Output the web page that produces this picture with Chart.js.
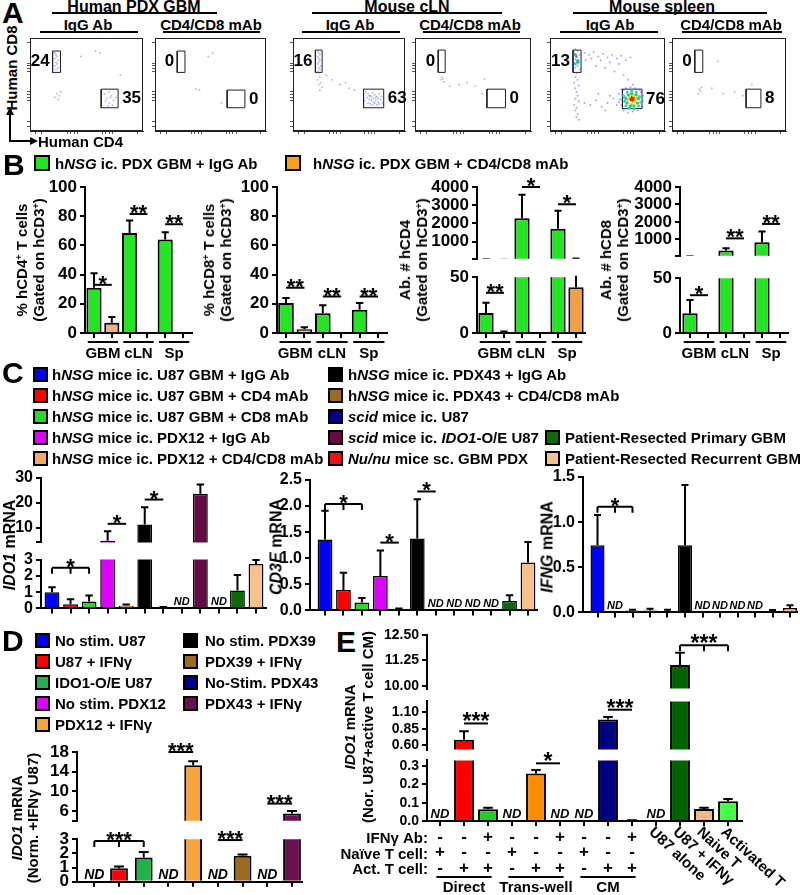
<!DOCTYPE html>
<html>
<head>
<meta charset="utf-8">
<title>IDO1 / T cell figure</title>
<script src="https://cdn.jsdelivr.net/npm/chart.js@4.4.1/dist/chart.umd.min.js"></script>
<style>
  html, body { margin: 0; padding: 0; background: #fff; }
  body { position: relative; width: 800px; height: 895px; overflow: hidden;
         font-family: "Liberation Sans", Arial, sans-serif; font-weight: bold; color: #000; }
  canvas { position: absolute; }
  .t { position: absolute; white-space: nowrap; line-height: 1; }
  .sq { position: absolute; box-sizing: border-box; border: 2px solid #000; }
  .hl { position: absolute; height: 0; border-top: 2px solid #000; }
  sup { font-size: 60%; vertical-align: 0.55em; line-height: 0; }
</style>
</head>
<body>
<script>
const FONT = '"Liberation Sans", Arial, sans-serif';

// ---------- Panel A: flow plots (CD4 on x, CD8 on y, 0-100 display units) ----------
const gateCD8 = [[20, 27, 63, 86], [20, 27, 63, 86], [20, 26, 63, 87], [20, 26, 63, 87], [20, 27, 63, 87], [20, 27, 63, 87]];
const gateCD4 = [[63, 78, 25, 45], [65, 81, 25, 44], [63, 81, 25, 45], [62, 78, 25, 45], [63, 80, 24, 45], [65, 78, 25, 45]];
const gatePct = [['24', '35'], ['0', '0'], ['16', '63'], ['0', '0'], ['13', '76'], ['0', '8']];
const flowTicks = [5, 10, 33, 36, 39, 42, 64, 67, 70, 73, 95];

const a1Dots = [[22,84],[23,82],[24,80],[22,78],[25,76],[23,74],[24,72],[22,70],[25,68],[23,66],
  [24,40],[26,38],[22,36],[25,34],[27,42],
  [66,40],[70,42],[72,38],[68,35],[74,33],[70,30],[73,28],[67,32],[76,36],[71,36],[69,27],
  [58,86],[62,84],[45,80],[80,60]];
const a2Dots = [[37,45],[40,44],[48,80],[52,84],[60,30]];
const a3Dots = [[22,86],[23,84],[24,82],[22,80],[23,78],[24,76],[23,74],[22,72],[25,70],[23,68],[24,66],[22,64],
  [23,62],[24,58],[22,55],[25,52],[23,50],[26,47],[24,44],
  [30,60],[35,55],[42,50],[50,46],[55,44],[47,52],
  [65,42],[67,40],[69,38],[71,41],[73,39],[75,37],[77,40],[66,36],[68,34],[70,33],[72,35],[74,33],[76,31],[78,34],
  [67,30],[69,29],[71,28],[73,30],[75,28],[77,29],[70,37],[72,31],[74,36],[68,38],[76,35],[79,37],[64,33],[80,30]];
const a4Dots = [[23,58],[24,56],[25,53],[22,55],[30,48],[38,50],[45,52],[52,48],[58,40],[60,56]];
const a5Blue = [[22,88],[24,86],[21,84],[26,82],[23,80],[22,77],[25,75],[21,73],[24,70],[22,68],[26,66],[23,62],
  [22,58],[24,55],[21,52],[25,49],[22,46],[23,42],[24,38],[22,35],[25,32],[21,28],[23,25],[22,22],[24,18],[23,15],[25,12],
  [30,84],[34,82],[38,85],[42,80],[46,83],[50,79],[54,82],[58,78],[62,81],[66,76],[70,79],[36,78],[44,76],[52,74],
  [60,72],[31,76],[40,70],[48,68],[56,64],[64,60],[68,55],[72,50],
  [30,30],[35,28],[40,33],[45,26],[50,30],[55,35],[58,28],[42,40],[48,22],[52,38],
  [60,40],[61,34],[62,28],[64,44],[64,22],[66,46],[68,20],[70,47],[72,21],[74,46],[76,22],[78,44],[80,26],[81,32],
  [81,38],[79,42],[60,31],[62,45]];
const a5Cyan = [[64,38],[65,32],[66,27],[67,42],[69,25],[71,43],[73,24],[75,42],[77,27],[78,37],[79,31],[65,36],
  [23,80],[24,76],[22,72]];
const a5Green = [[66,35],[67,30],[68,39],[70,27],[71,40],[73,27],[75,39],[76,30],[77,35],[22,82],[24,74]];
const a5Yellow = [[68,33],[69,37],[71,29],[73,38],[74,32],[75,35]];
const a5Red = [[70,34],[72,33],[71,36],[73,35]];
const a6Dots = [[24,45],[25,43],[23,40],[26,47],[35,46],[45,40],[55,42],[62,38],[40,75],[70,50]];

// ---------- Panel B ----------
const bGroups = ['GBM', 'cLN', 'Sp'];
const cd4PctVal = [31, 7, 68.5, 0, 64, 0];
const cd4PctErr = [10, 4, 8.5, 0, 5, 0];
const cd8PctVal = [20.5, 2.5, 13.5, 0, 16, 0];
const cd8PctErr = [3.5, 1.5, 5.5, 0, 4.5, 0];
const cd4AbsVal = [18, 0.5, 2280, 0, 1710, 41];
const cd4AbsErr = [9, 0.8, 1300, 0, 980, 19];
const cd8AbsVal = [18, 0, 350, 0, 830, 0];
const cd8AbsErr = [12, 0, 130, 0, 620, 0];
const cd4PctSig = [{a: 0, b: 1, v: 33, t: '*'}, {a: 2, b: 3, v: 81.5, t: '**'}, {a: 4, b: 5, v: 74.5, t: '**'}];
const cd8PctSig = [{a: 0, b: 1, v: 31, t: '**'}, {a: 2, b: 3, v: 25, t: '**'}, {a: 4, b: 5, v: 25, t: '**'}];
const cd4AbsSigLow = [{a: 0, b: 1, v: 36, t: '**'}];
const cd4AbsSigUp = [{a: 2, b: 3, v: 4000, t: '*'}, {a: 4, b: 5, v: 3050, t: '*'}];
const cd8AbsSigLow = [{a: 0, b: 1, v: 34.5, t: '*'}];
const cd8AbsSigUp = [{a: 2, b: 3, v: 1050, t: '**'}, {a: 4, b: 5, v: 1880, t: '**'}];

// ---------- Panel C ----------
const cCats = ['h<i>NSG</i> mice ic. U87 GBM + IgG Ab', 'h<i>NSG</i> mice ic. U87 GBM + CD4 mAb',
  'h<i>NSG</i> mice ic. U87 GBM + CD8 mAb', 'h<i>NSG</i> mice ic. PDX12 + IgG Ab',
  'h<i>NSG</i> mice ic. PDX12 + CD4/CD8 mAb', 'h<i>NSG</i> mice ic. PDX43 + IgG Ab',
  'h<i>NSG</i> mice ic. PDX43 + CD4/CD8 mAb', '<i>scid</i> mice ic. U87',
  '<i>scid</i> mice ic. <i>IDO1</i>-O/E U87', '<i>Nu/nu</i> mice sc. GBM PDX',
  'Patient-Resected Primary GBM', 'Patient-Resected Recurrent GBM'];
const cColors = ['#0000ff', '#ff0000', '#22dd22', '#dd00ff', '#f3a962', '#000000',
  '#9b6b1f', '#00008b', '#660a44', '#ee1111', '#0b6b0b', '#f7c28a'];
const ido1Val = [1.0, 0.25, 0.42, 4.7, 0.17, 11.2, 0.05, null, 23.6, null, 1.1, 2.73];
const ido1Err = [0.3, 0.32, 0.38, 3.8, 0.07, 7, 0.04, 0, 3.8, 0, 0.95, 0.25];
const cd3eVal = [1.36, 0.39, 0.15, 0.66, 0.01, 1.38, null, null, null, null, 0.18, 0.92];
const cd3eErr = [0.55, 0.33, 0.09, 0.49, 0.025, 0.75, 0, 0, 0, 0, 0.11, 0.39];
const ifngVal = [0.745, null, 0.02, 0.02, 0.01, 0.745, null, null, null, null, 0.015, 0.05];
const ifngErr = [0.335, 0, 0.01, 0.02, 0.02, 0.665, 0, 0, 0, 0, 0.012, 0.03];
const ido1SigLow = [{a: 0, b: 2, m: 1, v: 2.5, t: '*'}];
const ido1SigUp = [{a: 3, b: 4, v: 11.5, t: '*'}, {a: 5, b: 6, v: 21.3, t: '*'}];
const cd3eSig = [{a: 0, b: 2, m: 1, v: 2.04, t: '*'}, {a: 3, b: 4, v: 1.3, t: '*'}, {a: 5, b: 6, v: 2.28, t: '*'}];
const ifngSig = [{a: 0, b: 2, m: 1, v: 1.17, t: '*'}];

// ---------- Panel D ----------
const dCats = ['No stim. U87', 'U87 + IFNγ', 'IDO1-O/E U87', 'No stim. PDX12', 'PDX12 + IFNγ',
  'No stim. PDX39', 'PDX39 + IFNγ', 'No-Stim. PDX43', 'PDX43 + IFNγ'];
const dColors = ['#0000ff', '#ff0000', '#21b24b', '#dd00ff', '#f7a43a', '#000000', '#9b6b1f', '#000099', '#6b0f4f'];
const dVal = [null, 0.95, 1.72, null, 15.3, null, 1.83, null, 5.5];
const dErr = [0, 0.12, 0.38, 0, 0.8, 0, 0.1, 0, 0.5];
const dSigLow = [{a: 0, b: 2, m: 1, v: 2.88, t: '***'}, {a: 5, b: 6, v: 2.94, t: '***'}];
const dSigUp = [{a: 3, b: 4, v: 18, t: '***'}, {a: 7, b: 8, v: 7.5, t: '***'}];

// ---------- Panel E ----------
const eColors = ['#000', '#ff0000', '#22cc22', '#000', '#ff8c00', '#000', '#000', '#000080', '#000',
  '#000', '#006400', '#f5b886', '#44ff44'];
const eVal = [null, 0.68, 0.065, null, 0.26, null, null, 0.99, 0.002, null, 11.02, 0.066, 0.108];
const eErr = [0, 0.13, 0.007, 0, 0.02, 0, 0, 0.04, 0.002, 0, 0.6, 0.007, 0.012];
const eIfnAb = ['-', '-', '+', '-', '-', '+', '-', '-', '+'];
const eNaive = ['+', '-', '-', '+', '-', '-', '+', '-', '-'];
const eAct = ['-', '+', '+', '-', '+', '+', '-', '+', '+'];
const eGroups = ['Direct', 'Trans-well', 'CM'];
const eSingles = ['U87 alone', 'U87 + IFNγ', 'Naive T', 'Activated T'];
const eSigTop = [{a: 10, b: 12, m: 11, v: 11.99, t: '***'}];
const eSigMid = [{a: 1, b: 2, v: 0.93, t: '***'}, {a: 7, b: 8, v: 1.14, t: '***'}];
const eSigLow = [{a: 4, b: 5, v: 0.316, t: '*'}];

// ---------- helpers ----------
function mkCanvas(x, y, w, h) {
  const c = document.createElement('canvas');
  c.width = Math.round(w); c.height = Math.round(h);
  c.style.left = Math.round(x) + 'px'; c.style.top = Math.round(y) + 'px';
  document.body.appendChild(c);
  return c;
}
function label(html, x, y, size, align) {
  const d = document.createElement('div');
  d.className = 't';
  d.innerHTML = html;
  d.style.left = x + 'px'; d.style.top = y + 'px'; d.style.fontSize = size + 'px';
  const tx = align === 'center' ? '-50%' : align === 'right' ? '-100%' : '0';
  d.style.transform = `translate(${tx}, -50%)`;
  document.body.appendChild(d);
  return d;
}
function vlabel(html, x, y, size, lh) {
  const d = label(html, x, y, size);
  d.style.transform = 'translate(-50%, -50%) rotate(-90deg)';
  d.style.textAlign = 'center';
  d.style.lineHeight = (lh || size + 3) + 'px';
  return d;
}
function hline(x0, x1, y) {
  const d = document.createElement('div');
  d.className = 'hl';
  d.style.left = x0 + 'px'; d.style.top = (y - 1) + 'px'; d.style.width = (x1 - x0) + 'px';
  document.body.appendChild(d);
}
function swatch(x, y, color, size) {
  const d = document.createElement('div');
  d.className = 'sq';
  d.style.left = x + 'px'; d.style.top = (y - size / 2) + 'px';
  d.style.width = size + 'px'; d.style.height = size + 'px';
  d.style.background = color;
  document.body.appendChild(d);
}

// error bars, ND labels, significance lines, extra axis text
function deco(ch, o) {
  const { ctx, chartArea: a, scales: { x, y } } = ch;
  const step = x.getPixelForValue(1) - x.getPixelForValue(0);
  ctx.save();
  ctx.beginPath();
  ctx.rect(a.left, a.top - 1.5, a.right - a.left, a.bottom - a.top + 1.5);
  ctx.clip();
  ctx.strokeStyle = '#000';
  ctx.lineWidth = 2;
  o.vals.forEach((v, i) => {
    const e = o.errs[i];
    if (v == null || !e) return;
    const px = x.getPixelForValue(i);
    const y0 = y.getPixelForValue(v), y1 = y.getPixelForValue(v + e);
    const cw = step * 0.2;
    ctx.beginPath();
    ctx.moveTo(px, y0); ctx.lineTo(px, y1);
    ctx.moveTo(px - cw, y1); ctx.lineTo(px + cw, y1);
    ctx.stroke();
  });
  ctx.restore();

  ctx.save();
  ctx.fillStyle = '#000';
  ctx.strokeStyle = '#000';
  ctx.lineWidth = 2;
  if (o.nd) {
    ctx.font = `italic bold ${o.nd}px ${FONT}`;
    ctx.textAlign = 'center';
    ctx.textBaseline = 'alphabetic';
    o.vals.forEach((v, i) => { if (v == null) ctx.fillText('ND', x.getPixelForValue(i), a.bottom - 3); });
  }
  (o.sig || []).forEach(s => {
    const xa = x.getPixelForValue(s.a), xb = x.getPixelForValue(s.b), yy = y.getPixelForValue(s.v);
    ctx.beginPath();
    ctx.moveTo(xa, yy); ctx.lineTo(xb, yy);
    if (s.m != null) {
      [xa, xb, x.getPixelForValue(s.m)].forEach(px => { ctx.moveTo(px, yy); ctx.lineTo(px, yy + 6); });
    }
    ctx.stroke();
    ctx.font = `bold ${o.star || 22}px ${FONT}`;
    ctx.textAlign = 'center';
    ctx.textBaseline = 'alphabetic';
    ctx.fillText(s.t, (xa + xb) / 2, yy + 6);
  });
  if (o.groups) {
    ctx.font = `bold 15px ${FONT}`;
    ctx.textAlign = 'center';
    ctx.textBaseline = 'middle';
    o.groups.forEach((g, k) => {
      const mid = (x.getPixelForValue(2 * k) + x.getPixelForValue(2 * k + 1)) / 2;
      ctx.beginPath();
      ctx.moveTo(mid - step * 0.85, a.bottom + 9); ctx.lineTo(mid + step * 0.85, a.bottom + 9);
      ctx.stroke();
      ctx.fillText(g, mid, a.bottom + 21);
    });
  }
  if (o.extra) o.extra(ctx, a, x, step);
  ctx.restore();
}

// one bar chart (or one segment of a broken axis)
function barChart(o) {
  const yw = o.yw || 48, pt = o.pt || 20, pr = o.pr || 6, xh = o.xh || 8;
  const n = o.vals.length;
  const step = (o.cN - o.c0) / (n - 1);
  const upper = o.seg === 'up';
  const cv = mkCanvas(o.ax - yw, o.top - pt, o.ar - o.ax + yw + pr, o.bot - o.top + pt + xh);
  const shown = o.vals.map((v, i) => ({ x: i, y: (v == null || (upper && v <= o.min)) ? null : v }));
  const idx = o.vals.map((v, i) => i);
  return new Chart(cv, {
    type: 'bar',
    data: {
      datasets: [{
        data: shown,
        backgroundColor: o.colors,
        borderColor: '#000',
        borderWidth: o.bw || 2,
        borderSkipped: 'start',
        categoryPercentage: 1,
        barPercentage: o.bp || 0.8,
        clip: 0
      }]
    },
    options: {
      responsive: false, animation: false, events: [],
      layout: { padding: { top: pt, right: pr, left: 0, bottom: 0 } },
      plugins: { legend: { display: false }, tooltip: { enabled: false } },
      scales: {
        x: {
          type: 'linear', offset: false,
          min: (o.ax - o.c0) / step, max: (o.ar - o.c0) / step,
          afterBuildTicks: s => { s.ticks = idx.map(v => ({ value: v })); },
          ticks: { display: false },
          grid: { display: !upper, drawOnChartArea: false, offset: false, color: '#000', lineWidth: 2, tickLength: 5 },
          border: { display: !upper, color: '#000', width: 2 },
          afterFit: s => { s.height = xh; }
        },
        y: {
          min: o.min, max: o.max,
          afterBuildTicks: s => { s.ticks = o.ticks.map(v => ({ value: v })); },
          ticks: { autoSkip: false, color: '#000', padding: 3, font: { family: FONT, size: o.fs || 16, weight: 'bold' },
                   callback: v => o.fmt(v) },
          grid: { drawOnChartArea: false, color: '#000', lineWidth: 2, tickLength: 5 },
          border: { color: '#000', width: 2 },
          afterFit: s => { s.width = yw; }
        }
      }
    },
    plugins: [{ id: 'deco', afterDatasetsDraw: ch => deco(ch, o) }]
  });
}

// ---------- draw panel A ----------
const FY0 = 36, FY1 = 131;
const flowX = [[30, 145], [155, 268], [293, 407], [415, 533], [550, 667], [672, 788]];
const dotBlue = 'rgba(100,100,240,0.45)';
const flowLayers = [
  [[a1Dots, dotBlue, 1]],
  [[a2Dots, dotBlue, 1]],
  [[a3Dots, dotBlue, 1]],
  [[a4Dots, dotBlue, 1]],
  [[a5Blue, 'rgba(80,80,240,0.5)', 1], [a5Cyan, '#30c8e8', 1.5], [a5Green, '#30d050', 1.7],
   [a5Yellow, '#f0e020', 1.7], [a5Red, '#f02020', 1.8]],
  [[a6Dots, dotBlue, 1]]
];
function rectPath(g) {
  return [{x: g[0], y: g[2]}, {x: g[1], y: g[2]}, {x: g[1], y: g[3]}, {x: g[0], y: g[3]}, {x: g[0], y: g[2]}];
}
flowX.forEach(([fx0, fx1], k) => {
  const cv = mkCanvas(fx0 - 4, FY0 - 2, fx1 - fx0 + 6, FY1 - FY0 + 6);
  const sets = flowLayers[k].map(([pts, col, r]) => ({
    data: pts.map(([px, py]) => ({ x: px, y: py })), backgroundColor: col, borderWidth: 0, pointRadius: r
  }));
  [gateCD8[k], gateCD4[k]].forEach(g => sets.push({
    data: rectPath(g), showLine: true, pointRadius: 0, borderColor: '#222', borderWidth: 1, fill: false
  }));
  new Chart(cv, {
    type: 'scatter',
    data: { datasets: sets },
    options: {
      responsive: false, animation: false, events: [],
      layout: { padding: { top: 2, right: 2, left: 0, bottom: 0 } },
      plugins: { legend: { display: false }, tooltip: { enabled: false } },
      scales: {
        x: { min: 0, max: 100, afterBuildTicks: s => { s.ticks = flowTicks.map(v => ({ value: v })); },
             ticks: { display: false }, grid: { drawOnChartArea: false, tickLength: 3, color: '#555', lineWidth: 1 },
             border: { color: '#222', width: 1 }, afterFit: s => { s.height = 4; } },
        y: { min: 0, max: 100, afterBuildTicks: s => { s.ticks = flowTicks.map(v => ({ value: v })); },
             ticks: { display: false }, grid: { drawOnChartArea: false, tickLength: 3, color: '#555', lineWidth: 1 },
             border: { color: '#222', width: 1 }, afterFit: s => { s.width = 4; } }
      }
    },
    plugins: [{
      id: 'frame',
      afterDatasetsDraw(ch) {
        const { ctx, chartArea: a, scales: { x, y } } = ch;
        ctx.save();
        ctx.strokeStyle = '#222'; ctx.lineWidth = 1;
        ctx.strokeRect(a.left + 0.5, a.top + 0.5, a.right - a.left - 1, a.bottom - a.top - 1);
        ctx.fillStyle = '#000';
        ctx.font = `bold 17px ${FONT}`;
        ctx.textBaseline = 'middle';
        const g8 = gateCD8[k], g4 = gateCD4[k];
        ctx.textAlign = 'right';
        ctx.fillText(gatePct[k][0], x.getPixelForValue(g8[0]) - 3, y.getPixelForValue((g8[2] + g8[3]) / 2));
        ctx.textAlign = 'left';
        ctx.fillText(gatePct[k][1], x.getPixelForValue(g4[1]) + 4, y.getPixelForValue((g4[2] + g4[3]) / 2));
        ctx.restore();
      }
    }]
  });
});

label('A', 2, 13, 30);
label('Human PDX GBM', 134, 7, 16, 'center'); hline(52, 217, 13);
label('IgG Ab', 88, 24, 15, 'center'); hline(40, 138, 32);
label('CD4/CD8 mAb', 211, 24, 15, 'center'); hline(163, 260, 32);
label('Mouse cLN', 407, 7, 16, 'center'); hline(312, 502, 13);
label('IgG Ab', 350, 24, 15, 'center'); hline(302, 400, 32);
label('CD4/CD8 mAb', 470, 24, 15, 'center'); hline(423, 520, 32);
label('Mouse spleen', 662, 7, 16, 'center'); hline(573, 767, 13);
label('IgG Ab', 610, 24, 15, 'center'); hline(560, 658, 32);
label('CD4/CD8 mAb', 731, 24, 15, 'center'); hline(682, 782, 32);
vlabel('Human CD8', 12, 68, 15);
label('Human CD4', 38, 141, 15);
document.body.insertAdjacentHTML('beforeend',
  '<svg style="position:absolute;left:0;top:0" width="60" height="150">' +
  '<path d="M10 141 L10 114 M9 141 L32 141" stroke="#000" stroke-width="2" fill="none"/>' +
  '<path d="M10 107 L6 115 L14 115 Z M38 141 L30 137 L30 145 Z" fill="#000"/></svg>');

// ---------- draw panel B ----------
label('B', 3, 165, 30);
swatch(34, 163, '#22e622', 16);
label('h<i>NSG</i> ic. PDX GBM + IgG Ab', 55, 163, 15);
swatch(285, 163, '#f7a21b', 16);
label('h<i>NSG</i> ic. PDX GBM + CD4/CD8 mAb', 313, 163, 15);

const bTan = ['#22e622', '#f2b27c', '#22e622', '#f2b27c', '#22e622', '#f2b27c'];
const bOrange = ['#22e622', '#f5a040', '#22e622', '#f5a040', '#22e622', '#f5a040'];
const pctTicks = [0, 20, 40, 60, 80, 100];
barChart({ ax: 85, ar: 192, c0: 94, cN: 183, top: 187, bot: 333, xh: 32, min: 0, max: 100,
  ticks: pctTicks, fmt: v => String(v), fs: 17, vals: cd4PctVal, errs: cd4PctErr, colors: bTan,
  bp: 0.85, sig: cd4PctSig, groups: bGroups });
barChart({ ax: 277, ar: 387, c0: 286, cN: 378, top: 187, bot: 333, xh: 32, min: 0, max: 100,
  ticks: pctTicks, fmt: v => String(v), fs: 17, vals: cd8PctVal, errs: cd8PctErr, colors: bTan,
  bp: 0.85, sig: cd8PctSig, groups: bGroups });
barChart({ seg: 'up', ax: 477, ar: 585, c0: 486, cN: 576, top: 187, bot: 264, min: 50, max: 4000,
  ticks: [50, 1000, 2000, 3000, 4000], fmt: v => v >= 1000 ? String(v) : '', fs: 17,
  vals: cd4AbsVal, errs: cd4AbsErr, colors: bOrange, bp: 0.85, sig: cd4AbsSigUp, pt: 24 });
barChart({ ax: 477, ar: 585, c0: 486, cN: 576, top: 274, bot: 333, xh: 32, pt: 10, min: 0, max: 50,
  ticks: [0, 50], fmt: v => String(v), fs: 17, vals: cd4AbsVal, errs: cd4AbsErr, colors: bOrange,
  bp: 0.85, sig: cd4AbsSigLow, groups: bGroups });
barChart({ seg: 'up', ax: 680, ar: 788, c0: 690, cN: 780, top: 187, bot: 261, min: 50, max: 4000,
  ticks: [50, 1000, 2000, 3000, 4000], fmt: v => v >= 1000 ? String(v) : '', fs: 17,
  vals: cd8AbsVal, errs: cd8AbsErr, colors: bOrange, bp: 0.85, sig: cd8AbsSigUp });
barChart({ ax: 680, ar: 788, c0: 690, cN: 780, top: 275, bot: 333, xh: 32, pt: 10, min: 0, max: 50,
  ticks: [0, 50], fmt: v => String(v), fs: 17, vals: cd8AbsVal, errs: cd8AbsErr, colors: bOrange,
  bp: 0.85, sig: cd8AbsSigLow, groups: bGroups });
vlabel('% hCD4<sup>+</sup> T cells<br>(Gated on hCD3<sup>+</sup>)', 30, 260, 15, 17);
vlabel('% hCD8<sup>+</sup> T cells<br>(Gated on hCD3<sup>+</sup>)', 217, 260, 15, 17);
vlabel('Ab. # hCD4<br>(Gated on hCD3<sup>+</sup>)', 413, 260, 15, 17);
vlabel('Ab. # hCD8<br>(Gated on hCD3<sup>+</sup>)', 614, 260, 15, 17);

// ---------- draw panel C ----------
label('C', 2, 373, 30);
const legRows = [374, 395, 416, 437, 458];
cCats.forEach((name, i) => {
  let sx, tx, ry;
  if (i < 5) { sx = 33; tx = 52; ry = legRows[i]; }
  else if (i < 10) { sx = 328; tx = 348; ry = legRows[i - 5]; }
  else { sx = 545; tx = 565; ry = legRows[i - 7]; }
  swatch(sx, ry, cColors[i], 15);
  label(name, tx, ry, 15);
});
barChart({ seg: 'up', ax: 41, ar: 266, c0: 52, cN: 256, top: 478, bot: 547, min: 4, max: 30,
  ticks: [4, 10, 20, 30], fmt: v => v >= 10 ? String(v) : '', yw: 36,
  vals: ido1Val, errs: ido1Err, colors: cColors, bw: 1.5, sig: ido1SigUp });
barChart({ ax: 41, ar: 266, c0: 52, cN: 256, top: 557, bot: 613, pt: 10, min: 0, max: 3,
  ticks: [0, 1, 2, 3], fmt: v => String(v), yw: 36,
  vals: ido1Val, errs: ido1Err, colors: cColors, bw: 1.5, nd: 11, sig: ido1SigLow });
barChart({ ax: 310, ar: 537, c0: 325, cN: 528, top: 480, bot: 615, min: 0, max: 2.5,
  ticks: [0, 0.5, 1, 1.5, 2, 2.5], fmt: v => v.toFixed(1), yw: 40,
  vals: cd3eVal, errs: cd3eErr, colors: cColors, bw: 1.5, nd: 11, sig: cd3eSig });
barChart({ ax: 583, ar: 797, c0: 597.5, cN: 790, top: 477, bot: 617, pr: 2, min: 0, max: 1.5,
  ticks: [0, 0.5, 1, 1.5], fmt: v => v.toFixed(1), yw: 40,
  vals: ifngVal, errs: ifngErr, colors: cColors, bw: 1.5, nd: 11, sig: ifngSig });
vlabel('<i>IDO1</i> mRNA', 9, 545, 16);
vlabel('<i>CD3E</i> mRNA', 276, 547, 16);
vlabel('<i>IFNG</i> mRNA', 547, 547, 16);

// ---------- draw panel D ----------
label('D', 2, 641, 30);
const dRows = [640, 661, 682, 703, 724];
dCats.forEach((name, i) => {
  const left = i < 5;
  swatch(left ? 35 : 183, dRows[left ? i : i - 5], dColors[i], 15);
  label(name, left ? 55 : 205, dRows[left ? i : i - 5], 15);
});
barChart({ seg: 'up', ax: 77, ar: 302, c0: 94.3, cN: 292, top: 752, bot: 826, min: 4, max: 18,
  ticks: [4, 6, 10, 14, 18], fmt: v => v >= 6 ? String(v) : '', fs: 17, yw: 36,
  vals: dVal, errs: dErr, colors: dColors, bp: 0.72, sig: dSigUp });
barChart({ ax: 77, ar: 302, c0: 94.3, cN: 292, top: 836, bot: 887, pt: 10, min: 0, max: 3,
  ticks: [0, 1, 2, 3], fmt: v => String(v), fs: 17, yw: 36,
  vals: dVal, errs: dErr, colors: dColors, bp: 0.72, nd: 14, sig: dSigLow });
vlabel('<i>IDO1</i> mRNA<br>(Norm. +IFNγ U87)', 25, 818, 15, 16);

// ---------- draw panel E ----------
label('E', 336, 642, 30);
const eAxis = { ax: 427, ar: 742, c0: 440, cN: 728, fs: 14, yw: 46, bp: 0.83, colors: eColors,
  vals: eVal, errs: eErr, star: 23 };
barChart(Object.assign({}, eAxis, { seg: 'up', top: 635, bot: 692, min: 9.86, max: 12.5,
  ticks: [10, 11.25, 12.5], fmt: v => v.toFixed(2), sig: eSigTop }));
barChart(Object.assign({}, eAxis, { seg: 'up', top: 700, bot: 753, pt: 10, min: 0.53, max: 1.267,
  ticks: [0.6, 0.85, 1.1], fmt: v => v.toFixed(2), sig: eSigMid }));
barChart(Object.assign({}, eAxis, { top: 759, bot: 821, pt: 10, xh: 74, pr: 58, min: 0, max: 0.332,
  ticks: [0, 0.1, 0.2, 0.3], fmt: v => v.toFixed(1), nd: 13, sig: eSigLow,
  extra: (ctx, a, x, step) => {
    ctx.font = `bold 17px ${FONT}`;
    ctx.textAlign = 'center';
    ctx.textBaseline = 'middle';
    [eIfnAb, eNaive, eAct].forEach((row, r) => row.forEach((s, i) => {
      ctx.fillText(s, x.getPixelForValue(i), a.bottom + 16 + r * 15.5);
    }));
    ctx.font = `bold 15px ${FONT}`;
    eGroups.forEach((g, k) => {
      const xa = x.getPixelForValue(3 * k) - step * 0.15, xb = x.getPixelForValue(3 * k + 2) + step * 0.15;
      ctx.beginPath(); ctx.moveTo(xa, a.bottom + 56); ctx.lineTo(xb, a.bottom + 56); ctx.stroke();
      ctx.fillText(g, x.getPixelForValue(3 * k + 1), a.bottom + 67);
    });
    eSingles.forEach((s, j) => {
      ctx.save();
      ctx.translate(x.getPixelForValue(9 + j) - 5, a.bottom + 9);
      ctx.rotate(43 * Math.PI / 180);
      ctx.textAlign = 'left';
      ctx.fillText(s, 0, 0);
      ctx.restore();
    });
  } }));
vlabel('<i>IDO1</i> mRNA<br>(Nor. U87+active T cell CM)', 359, 727, 15, 18);
label('IFNγ Ab:', 428, 837, 15, 'right');
label('Naïve T cell:', 428, 853, 15, 'right');
label('Act. T cell:', 428, 868, 15, 'right');
</script>
</body>
</html>
